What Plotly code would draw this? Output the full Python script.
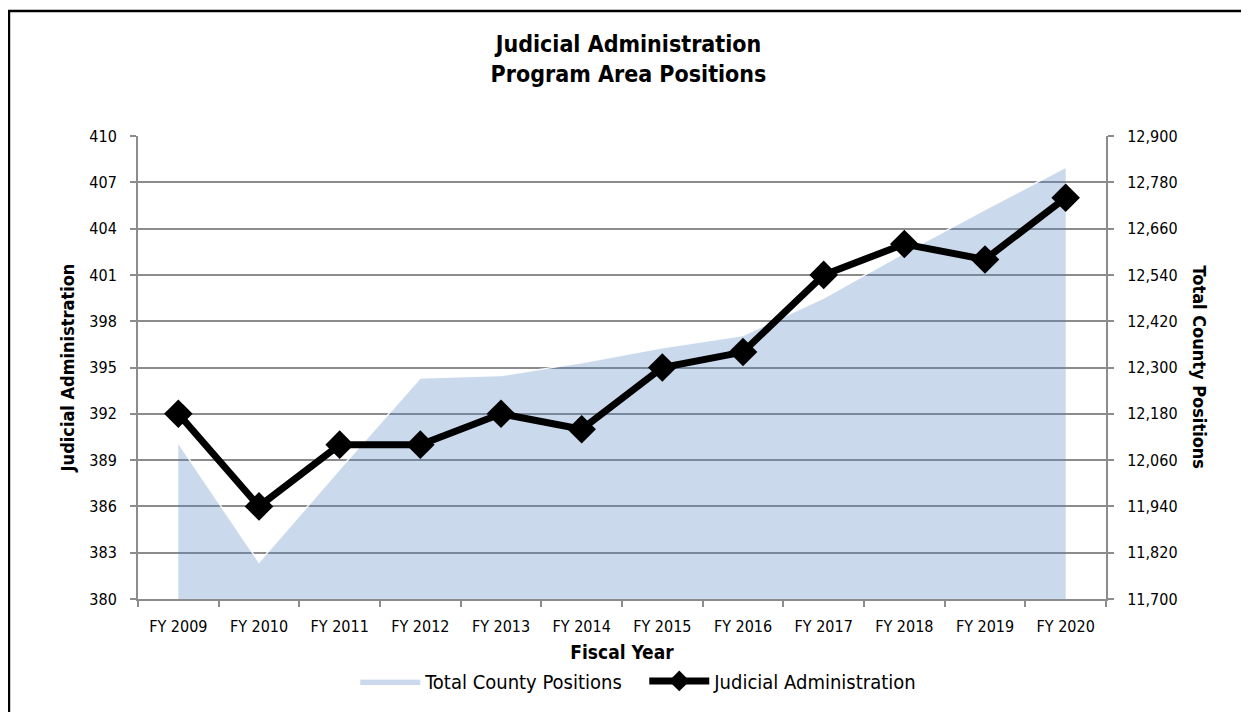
import plotly.graph_objects as go

# values
fiscal_years = ['FY 2009', 'FY 2010', 'FY 2011', 'FY 2012', 'FY 2013', 'FY 2014',
                'FY 2015', 'FY 2016', 'FY 2017', 'FY 2018', 'FY 2019', 'FY 2020']
judicial_positions = [392, 386, 390, 390, 392, 391, 395, 396, 401, 403, 402, 406]
county_positions = [12104, 11795, 12036, 12273, 12279, 12312,
                    12351, 12383, 12480, 12597, 12709, 12819]

left_ticks = list(range(380, 411, 3))
right_ticks = list(range(11700, 12901, 120))

FONT = "DejaVu Sans Condensed, sans-serif"
GRID = '#8c8c8c'

fig = go.Figure()

# area on the primary (right-hand) axis so the line is drawn above it
fig.add_trace(go.Scatter(
    x=fiscal_years,
    y=county_positions,
    yaxis='y',
    mode='lines',
    name='Total County Positions',
    fill='tozeroy',
    fillcolor='rgba(79,129,189,0.30)',
    line=dict(color='rgba(255,255,255,0.9)', width=1.5),
))

fig.add_trace(go.Scatter(
    x=fiscal_years,
    y=judicial_positions,
    yaxis='y2',
    mode='lines+markers',
    name='Judicial Administration',
    line=dict(color='black', width=7),
    marker=dict(symbol='diamond', size=22, color='black'),
))

# outer frame of the chart
fig.add_shape(type='rect', xref='paper', yref='paper',
              x0=-0.1333, x1=1.1446, y0=-0.30, y1=1.27,
              line=dict(color='black', width=2.5), fillcolor='rgba(0,0,0,0)')

# right axis title reads top to bottom
fig.add_annotation(text='<b>Total County Positions</b>', xref='paper', yref='paper',
                   x=1.097, y=0.5, xanchor='center', yanchor='middle',
                   textangle=90, showarrow=False,
                   font=dict(family=FONT, size=18, color='black'))

fig.update_layout(
    width=1241, height=704,
    margin=dict(l=130, r=143, t=128, b=107),
    paper_bgcolor='white',
    plot_bgcolor='white',
    font=dict(family=FONT, color='black'),
    title=dict(text='<b>Judicial Administration<br>Program Area Positions</b>',
               x=0.5, xanchor='center', y=0.937, yanchor='middle',
               font=dict(family=FONT, size=23, color='black')),
    xaxis=dict(
        type='category',
        range=[-0.5, 11.5],
        tickson='boundaries',
        ticks='outside', ticklen=6, tickcolor=GRID, tickwidth=2,
        ticklabelstandoff=12,
        showline=True, linecolor=GRID, linewidth=2,
        showgrid=False,
        tickfont=dict(family=FONT, size=16, color='black'),
        title=dict(text='<b>Fiscal Year</b>', standoff=10,
                   font=dict(family=FONT, size=19, color='black')),
    ),
    yaxis=dict(
        side='right',
        range=[11700, 12900],
        tickvals=right_ticks,
        tickformat=',',
        ticks='outside', ticklen=6, tickcolor=GRID, tickwidth=2,
        ticklabelstandoff=10,
        showline=True, linecolor=GRID, linewidth=2,
        showgrid=True, gridcolor=GRID, gridwidth=2,
        zeroline=False,
        tickfont=dict(family=FONT, size=16, color='black'),
    ),
    yaxis2=dict(
        overlaying='y', side='left',
        range=[380, 410],
        tickvals=left_ticks,
        ticks='outside', ticklen=6, tickcolor=GRID, tickwidth=2,
        ticklabelstandoff=10,
        showline=True, linecolor=GRID, linewidth=2,
        showgrid=False, zeroline=False,
        tickfont=dict(family=FONT, size=16, color='black'),
        title=dict(text='<b>Judicial Administration</b>', standoff=10,
                   font=dict(family=FONT, size=18, color='black')),
    ),
    legend=dict(
        orientation='h',
        x=0.523, xanchor='center', y=-0.177, yanchor='middle',
        font=dict(family=FONT, size=20, color='black'),
        itemwidth=60,
        entrywidth=214, entrywidthmode='pixels',
        bgcolor='rgba(0,0,0,0)',
    ),
    showlegend=True,
)

fig.write_html("out.html")
